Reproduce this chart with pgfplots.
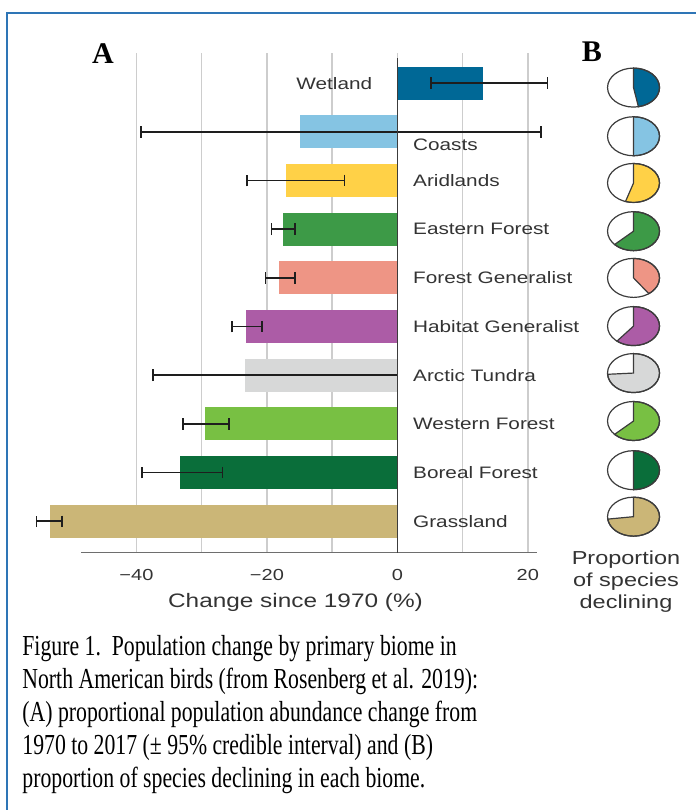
\documentclass[border=0pt]{standalone}
\usepackage{fontspec}
\usepackage{pgfplots}
\pgfplotsset{compat=1.18}
\setmainfont{Liberation Serif}
\newfontfamily\chartfont[FakeStretch=1.25]{Liberation Sans}
\newfontfamily\capfont[FakeStretch=0.75]{Liberation Serif}

% biome colours
\definecolor{cWetland}{RGB}{0,104,150}
\definecolor{cCoasts}{RGB}{133,196,227}
\definecolor{cArid}{RGB}{255,209,71}
\definecolor{cEastern}{RGB}{61,154,71}
\definecolor{cForGen}{RGB}{238,149,133}
\definecolor{cHabGen}{RGB}{172,92,166}
\definecolor{cArctic}{RGB}{215,216,216}
\definecolor{cWestern}{RGB}{120,192,67}
\definecolor{cBoreal}{RGB}{10,110,58}
\definecolor{cGrass}{RGB}{203,182,119}
\definecolor{txt}{RGB}{51,51,51}
\definecolor{gridgray}{RGB}{205,205,205}
\definecolor{axisgray}{RGB}{110,110,110}
\definecolor{zerocol}{RGB}{60,60,60}
\definecolor{piegray}{RGB}{60,60,60}
\definecolor{errcol}{RGB}{30,30,30}
\definecolor{frameblue}{RGB}{46,117,182}

\tikzset{lab/.style={font=\chartfont\fontsize{8.3}{10}\selectfont, text=txt, inner sep=0pt}}

% pie of the share of species declining: y position, fraction, colour
\newcommand{\pie}[3]{%
  \filldraw[fill=#3, draw=piegray, line width=0.6pt]
    (axis cs:36.2,#1) -- ++(0pt,9.75pt)
    arc[start angle=90, end angle={90-360*#2}, x radius=13pt, y radius=9.75pt] -- cycle;
  \draw[piegray, line width=0.6pt] (axis cs:36.2,#1) ellipse [x radius=13pt, y radius=9.75pt];
}

\begin{document}
\begin{tikzpicture}
\path[use as bounding box] (0,0) rectangle (348pt,405pt);

\begin{axis}[
  at={(40.5pt,128.65pt)}, anchor=south west,
  width=228pt, height=249.85pt, scale only axis,
  xmin=-48.5, xmax=21.4, ymin=-0.645, ymax=9.62,
  axis x line=bottom, axis y line=none,
  x axis line style={-, draw=axisgray, line width=0.8pt},
  xtick={-40,-20,0,20}, xticklabels={−40,−20,0,20},
  minor xtick={-30,-10,10},
  major tick length=0pt, minor tick length=0pt,
  xmajorgrids, xminorgrids,
  major grid style={gridgray, line width=0.75pt},
  minor grid style={gridgray, line width=0.75pt},
  xticklabel style={font=\chartfont\fontsize{8}{9}\selectfont, text=txt, yshift=-5pt},
  ytick=\empty,
  clip=false,
  biome/.style={xbar, bar shift=0pt, bar width=16.5pt, draw=none, fill=#1,
    error bars/x dir=both, error bars/x explicit,
    error bars/error bar style={errcol, line width=0.85pt},
    error bars/error mark options={errcol, line width=0.85pt, mark size=2.9pt, rotate=90}},
]
% change since 1970 with 95% credible interval
\addplot[biome=cWetland] coordinates {(13.1,9) += (9.9,0) -= (8.0,0)};
\addplot[biome=cCoasts]  coordinates {(-15.0,8) += (37.0,0) -= (24.3,0)};
\addplot[biome=cArid]    coordinates {(-17.1,7) += (9.0,0) -= (6.0,0)};
\addplot[biome=cEastern] coordinates {(-17.6,6) += (1.9,0) -= (1.7,0)};
\addplot[biome=cForGen]  coordinates {(-18.1,5) += (2.4,0) -= (2.1,0)};
\addplot[biome=cHabGen]  coordinates {(-23.2,4) += (2.4,0) -= (2.2,0)};
\addplot[biome=cArctic]  coordinates {(-23.4,3) += (23.4,0) -= (14.1,0)};
\addplot[biome=cWestern] coordinates {(-29.5,2) += (3.7,0) -= (3.4,0)};
\addplot[biome=cBoreal]  coordinates {(-33.3,1) += (6.5,0) -= (5.8,0)};
\addplot[biome=cGrass]   coordinates {(-53.3,0) += (1.9,0) -= (2.0,0)};

\draw[zerocol, line width=0.8pt] (axis cs:0,9.51) -- (axis cs:0,-0.645);

\node[lab, anchor=east] at (axis cs:-3.8,9) {Wetland};
\node[lab, anchor=west] at (axis cs:2.36,7.73) {Coasts};
\node[lab, anchor=west] at (axis cs:2.36,7) {Aridlands};
\node[lab, anchor=west] at (axis cs:2.36,6) {Eastern Forest};
\node[lab, anchor=west] at (axis cs:2.36,5) {Forest Generalist};
\node[lab, anchor=west] at (axis cs:2.36,4) {Habitat Generalist};
\node[lab, anchor=west] at (axis cs:2.36,3) {Arctic Tundra};
\node[lab, anchor=west] at (axis cs:2.36,2) {Western Forest};
\node[lab, anchor=west] at (axis cs:2.36,1) {Boreal Forest};
\node[lab, anchor=west] at (axis cs:2.36,0) {Grassland};

% proportion of species declining
\pie{8.91}{0.47}{cWetland}
\pie{7.91}{0.50}{cCoasts}
\pie{6.95}{0.55}{cArid}
\pie{5.96}{0.63}{cEastern}
\pie{5.00}{0.40}{cForGen}
\pie{4.01}{0.61}{cHabGen}
\pie{3.045}{0.74}{cArctic}
\pie{2.06}{0.63}{cWestern}
\pie{1.05}{0.50}{cBoreal}
\pie{0.095}{0.73}{cGrass}
\end{axis}

\begin{scope}[x=0.5pt, y=-0.5pt, shift={(0,405pt)}]
  \draw[frameblue, line width=1pt] (7,815) -- (7,13) -- (700,13);
  \node[font=\bfseries\fontsize{15}{18}\selectfont] at (103,54) {A};
  \node[font=\bfseries\fontsize{15}{18}\selectfont] at (592,52) {B};
  \node[font=\chartfont\fontsize{9.75}{11}\selectfont, text=txt] at (295.5,602.7) {Change since 1970 (\%)};
  \node[font=\chartfont\fontsize{9.4}{10.85}\selectfont, text=txt, align=center] at (626,581.7)
    {Proportion\\of species\\declining};
  \begin{scope}[every node/.style={anchor=base west, inner sep=0pt, font=\capfont\fontsize{14.5}{16.6}\selectfont}]
    \node at (22,655) {Figure 1.\ \ Population change by primary biome in};
    \node at (22,688.2) {North American birds (from Rosenberg et al. 2019):};
    \node at (22,721.4) {(A) proportional population abundance change from};
    \node at (22,754.6) {1970 to 2017 (± 95\% credible interval) and (B)};
    \node at (22,787.8) {proportion of species declining in each biome.};
  \end{scope}
\end{scope}
\end{tikzpicture}
\end{document}
